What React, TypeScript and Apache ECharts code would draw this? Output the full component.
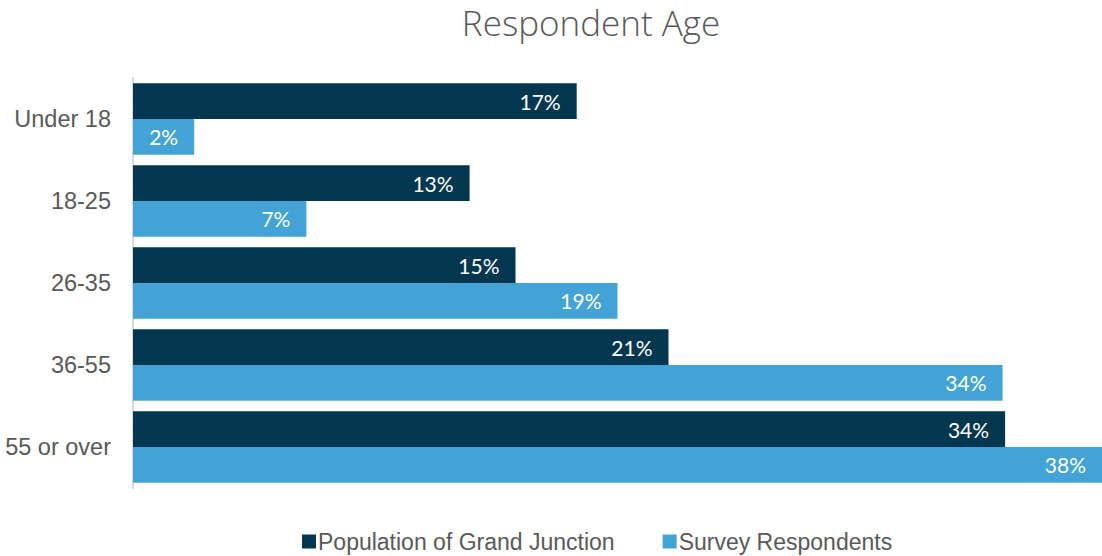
import React, { useEffect, useRef } from "react";
import * as echarts from "echarts";

const categories = ["Under 18", "18-25", "26-35", "36-55", "55 or over"];
const population = [17.4, 13.2, 15.0, 21.0, 34.2];
const survey = [2.4, 6.8, 19.0, 34.1, 38.0];
const seriesNames = ["Population of Grand Junction", "Survey Respondents"];
const colors = ["#03374F", "#44A3D6"];

export default function App() {
  const ref = useRef<HTMLDivElement>(null);
  useEffect(() => {
    if (!ref.current) return;
    const chart = echarts.init(ref.current, null, { renderer: "svg" });
    const labelFont = "Lato, 'Noto Sans', sans-serif";
    const arial = "'Liberation Sans', Arial, sans-serif";
    const mkSeries = (name: string, data: number[], color: string) => ({
      name,
      type: "bar",
      data,
      barGap: "0%",
      barCategoryGap: "13%",
      itemStyle: { color },
      label: {
        show: true,
        position: "insideRight",
        distance: 16,
        color: "#ffffff",
        fontSize: 21,
        fontFamily: labelFont,
        formatter: (p: any) => Math.round(p.value) + "%",
      },
    });
    chart.setOption({
      animation: false,
      title: {
        text: "Respondent Age",
        left: 586,
        textAlign: "center",
        top: 0,
        textStyle: {
          color: "#595959",
          fontSize: 35,
          fontWeight: 300,
          fontFamily: "'Open Sans', Lato, sans-serif",
        },
      },
      legend: {
        left: 297,
        top: 525,
        itemWidth: 14,
        itemHeight: 14,
        itemGap: 48,
        icon: "rect",
        textStyle: {
          color: "#595959",
          fontSize: 23,
          fontFamily: arial,
          padding: [0, 0, 0, -3],
        },
        data: seriesNames,
      },
      grid: { left: 133, right: 0, top: 78, bottom: 68, containLabel: false },
      xAxis: {
        type: "value",
        min: 0,
        max: 38,
        show: false,
        splitLine: { show: false },
      },
      yAxis: {
        type: "category",
        data: categories,
        inverse: true,
        axisLine: { show: true, lineStyle: { color: "#D9D9D9", width: 2 } },
        axisTick: { show: false },
        axisLabel: {
          color: "#595959",
          fontSize: 23.5,
          margin: 22,
          fontFamily: arial,
        },
      },
      series: [
        mkSeries(seriesNames[0], population, colors[0]),
        mkSeries(seriesNames[1], survey, colors[1]),
      ],
    });
    return () => chart.dispose();
  }, []);
  return (
    <div
      ref={ref}
      style={{ position: "absolute", left: 0, top: 0, width: 1102, height: 556 }}
    />
  );
}
